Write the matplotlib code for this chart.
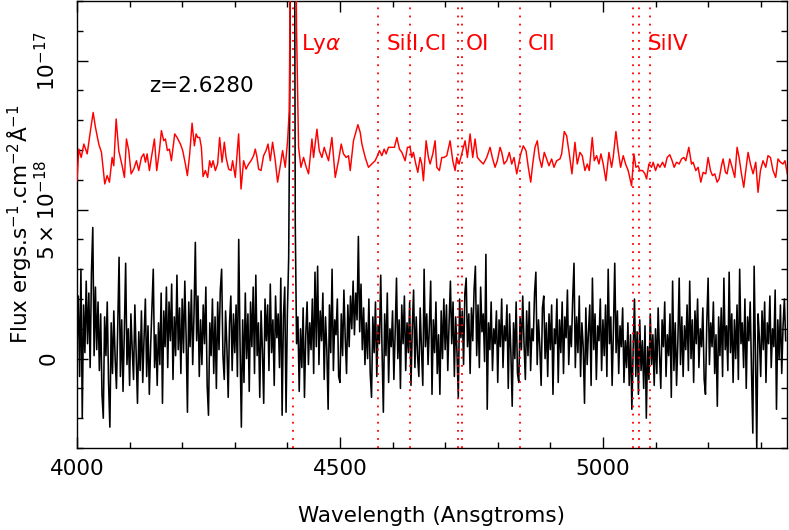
import numpy as np
import matplotlib
matplotlib.use("Agg")
import matplotlib.pyplot as plt
from matplotlib.ticker import MultipleLocator

# ---------------- data ----------------
redshift = 2.628

# black: observed spectrum (units 1e-18 erg/s/cm2/A), sampled every 2.5 A from 4000 A
black_start = 4000.0
black_step = 2.5
black_flux = [
    0.4, 2.1, -0.6, 3.0, -2.0, 1.8, 0.2, 2.6, 0.5, 2.2, -0.3, 2.9, 4.4, 0.1, 2.4, 0.3, 1.9, -0.4, 1.5, -1.2,
    -2.0, 1.4, 0.1, 1.9, -0.8, -2.3, 1.2, -0.5, 1.6, 0.0, -1.0, 1.1, 3.4, -0.6, 1.3, -1.1, 0.9, 3.2, -0.2, 1.0,
    -0.9, 1.5, 0.3, -0.7, 1.8, 0.2, -1.5, 0.9, -0.4, 1.6, -0.8, 0.7, 2.0, -0.6, 1.1, -1.2, 0.4, 1.7, 3.0, -0.3,
    0.8, -0.9, 1.2, -0.2, 2.2, -1.5, 1.6, 0.4, 2.4, -0.3, 1.9, 0.6, 2.5, -0.7, 1.4, 0.1, 2.8, 0.3, 1.7, -0.5,
    2.0, 0.2, 2.6, 0.7, -1.8, 1.9, 0.4, 2.3, -0.2, 1.5, 3.9, 0.6, 2.1, -0.6, 1.3, -0.2, 1.8, 0.5, 2.4, -0.9,
    -1.9, 1.2, 0.1, 2.0, -0.5, 1.4, -1.0, 1.9, 0.3, 2.3, 3.0, 0.1, -0.7, 1.6, 0.4, -1.3, 1.2, 2.1, -0.4, 1.5,
    0.2, 1.8, -0.6, 4.0, 0.5, -2.3, 1.3, -0.8, 2.2, 0.0, 1.5, -1.1, 1.9, 0.4, 2.4, -0.5, 2.8, 0.1, 1.2, -1.3,
    1.6, 0.3, -1.5, 2.0, 0.6, 1.8, -0.4, 2.5, 0.2, 1.3, -0.9, 2.1, 0.7, 1.5, -0.3, 2.7, -1.9, 1.4, 2.4, -1.8,
    1.5, 3.4, 10.0, 28.0, 35.0, 25.0, 4.5, 0.5, 1.4, -1.1, 1.0, -0.3, 1.7, -1.3, 0.8, 1.9, -0.2, 1.2, 0.3, 2.0,
    -0.5, 2.9, 0.4, 3.1, -0.2, 1.6, 0.6, 2.2, -0.7, 1.4, 0.3, -1.7, 1.8, 0.2, 3.0, -0.4, 1.3, 0.8, 2.0, -0.6,
    -0.8, 1.5, 0.1, 2.3, 0.7, -0.5, 1.8, 0.4, 2.1, 1.0, 2.6, 0.8, 2.2, 1.3, 4.1, 0.9, 2.5, 0.3, 1.7, -0.2,
    1.2, 0.0, 2.0, -0.5, -1.3, 1.4, 0.2, 1.9, -0.6, 1.1, 0.5, 2.8, 0.3, -1.8, 1.5, 0.1, 2.2, -0.8, 1.0, 0.4,
    1.6, -0.7, 0.9, 2.7, 0.0, 1.3, -1.0, 1.8, 0.5, 2.1, -0.4, 1.2, 0.2, 1.9, -0.9, 1.0, 2.3, -0.3, 1.4, 0.1,
    -0.6, 1.7, 0.3, -0.9, 3.0, 0.4, 1.5, -0.2, 1.1, 2.6, -1.2, 1.3, 0.2, 1.9, -0.5, 0.8, -1.2, 1.6, 0.0, 2.0,
    0.3, 1.8, -0.4, 1.2, 2.6, 0.5, 1.9, -0.6, 1.4, 0.2, -1.3, 2.0, 0.7, 1.6, -0.2, 2.2, 2.7, 0.4, 1.5, -0.5,
    1.7, 0.6, 2.3, 3.1, 0.1, 1.8, -0.3, 2.4, 0.9, 1.5, -0.1, 3.5, -1.7, 1.2, 0.3, 1.9, -0.4, 1.0, 0.5, 1.6,
    -0.8, 1.3, 0.4, 2.0, -0.3, 1.1, 0.6, 1.8, -1.0, 1.5, 0.2, -1.6, 1.2, 0.0, 1.9, -0.5, -0.8, 1.4, 0.3, 2.1,
    0.5, -0.7, 1.6, 0.1, 1.9, -0.4, 1.0, 0.6, 2.2, 2.9, -0.2, 1.3, 0.4, -0.9, 1.7, 2.1, 0.0, 1.2, -0.6, 1.5,
    0.3, 1.8, -1.2, 1.0, 0.5, 2.0, -0.8, 1.3, 0.2, 1.9, -0.5, 1.4, 0.7, 2.3, -0.2, 1.1, 0.4, 2.0, 3.2, -0.3,
    1.4, 0.2, 2.1, -0.6, 1.2, 0.4, -1.5, 1.7, -0.2, 0.9, 1.8, -0.9, 2.7, 0.3, 1.5, -0.7, 1.1, 0.6, 2.0, -0.4,
    1.3, 0.1, 1.8, -0.6, 3.0, 0.5, 1.4, -0.9, 1.0, 3.2, 0.2, 1.6, -0.5, 1.1, 0.4, 1.7, -0.8, 0.6, -0.3, 1.2,
    -0.9, 0.8, -1.7, 0.3, 2.0, -0.6, 0.9, -1.2, 1.3, -0.4, 0.6, -1.0, 1.1, -2.0, 0.4, -0.7, 1.5, -0.2, 0.8, -0.9,
    1.0, -0.5, 1.7, 0.2, -1.0, 1.3, 0.4, 1.9, -0.6, 0.8, 0.1, 1.5, -1.3, 2.6, -0.4, 1.2, -0.9, 0.6, 2.7, -0.2,
    1.4, -0.6, 1.1, 0.3, 1.8, -0.4, 2.6, 0.0, 1.3, -0.8, 1.6, 0.5, 2.0, -0.3, 1.0, 0.4, 1.7, -0.7, -1.2, 1.2,
    2.7, -0.2, 1.2, 0.4, 1.9, -0.5, 0.8, -1.6, 1.4, 0.1, 1.7, -0.6, 2.7, 0.3, 1.1, -0.4, 2.9, 0.2, 1.5, -0.8,
    1.3, 0.0, 1.8, -0.7, 3.0, 0.5, 1.2, -0.3, 2.0, -1.0, 1.4, 0.6, 1.9, -0.4, -2.5, 3.1, 0.2, -3.0, 1.5, 0.7,
    -0.6, 1.6, 0.3, 1.9, -0.8, 1.2, 0.5, 2.1, -0.3, 1.0, 0.4, 2.3, -1.7, 1.3, 0.0, 1.8, -0.5, 1.1, 2.0, 0.6,
]

# red: smoothed spectrum, offset upward (units 1e-18)
red_wave = [
    4000.0, 4003.4, 4008.0, 4013.0, 4019.4, 4025.6, 4030.7, 4035.1, 4041.4, 4046.5,
    4052.8, 4057.3, 4061.7, 4066.8, 4069.9, 4074.4, 4079.4, 4085.8, 4090.2, 4094.0,
    4098.4, 4102.9, 4107.9, 4113.0, 4117.4, 4122.5, 4126.9, 4130.1, 4133.3, 4137.7,
    4141.5, 4147.2, 4151.6, 4156.7, 4160.5, 4164.9, 4168.1, 4171.9, 4175.7, 4179.5,
    4182.7, 4185.8, 4190.3, 4196.6, 4201.0, 4206.1, 4209.9, 4214.3, 4218.8, 4223.2,
    4226.4, 4229.4, 4233.2, 4236.5, 4239.7, 4244.1, 4248.4, 4252.2, 4255.5, 4258.7,
    4263.1, 4267.4, 4271.2, 4275.8, 4280.2, 4283.4, 4288.3, 4292.9, 4295.9, 4301.0,
    4307.3, 4311.9, 4316.8, 4321.4, 4326.3, 4330.9, 4335.8, 4339.0, 4342.3, 4345.3,
    4349.9, 4354.8, 4359.4, 4363.2, 4367.5, 4371.9, 4377.0, 4381.4, 4386.5, 4390.9,
    4396.0, 4400.4, 4403.6, 4407.5, 4411.0, 4414.5, 4417.5, 4421.3, 4425.8, 4430.8,
    4435.9, 4440.3, 4446.7, 4449.8, 4456.2, 4460.6, 4465.7, 4470.1, 4473.9, 4478.3,
    4484.7, 4491.0, 4497.2, 4502.4, 4506.7, 4511.9, 4516.2, 4519.5, 4525.7, 4530.9,
    4534.1, 4538.5, 4541.7, 4548.0, 4554.2, 4560.7, 4566.9, 4571.3, 4575.1, 4579.7,
    4584.0, 4587.8, 4592.2, 4598.7, 4603.6, 4608.2, 4613.1, 4617.7, 4623.9, 4628.3,
    4633.4, 4636.6, 4639.7, 4644.2, 4648.0, 4652.4, 4655.6, 4658.7, 4663.8, 4668.2,
    4671.4, 4676.5, 4680.9, 4684.1, 4689.1, 4693.6, 4698.0, 4703.1, 4709.4, 4714.5,
    4718.9, 4722.1, 4726.5, 4731.6, 4737.9, 4742.3, 4747.4, 4752.5, 4756.9, 4761.3,
    4766.4, 4772.6, 4779.1, 4785.4, 4789.7, 4794.9, 4799.2, 4804.4, 4807.6, 4812.0,
    4817.1, 4822.0, 4826.6, 4831.0, 4836.1, 4841.0, 4843.7, 4848.6, 4853.7, 4858.1,
    4862.7, 4866.5, 4870.8, 4875.2, 4879.0, 4883.6, 4888.5, 4893.0, 4897.4, 4902.5,
    4906.9, 4912.0, 4918.3, 4921.5, 4926.5, 4931.0, 4936.0, 4941.1, 4946.8, 4951.2,
    4956.3, 4960.7, 4965.8, 4970.2, 4974.0, 4979.7, 4983.5, 4988.0, 4992.4, 4996.2,
    5000.6, 5005.7, 5011.4, 5016.5, 5019.5, 5024.7, 5029.0, 5033.6, 5038.6, 5043.1,
    5048.0, 5054.5, 5058.9, 5062.7, 5067.0, 5070.2, 5075.4, 5079.8, 5083.0, 5087.4,
    5092.5, 5095.5, 5100.1, 5104.5, 5108.3, 5113.4, 5117.8, 5122.1, 5127.2, 5131.6,
    5135.4, 5140.0, 5144.9, 5149.5, 5153.8, 5157.6, 5163.3, 5168.4, 5171.5, 5176.6,
    5181.0, 5186.1, 5190.5, 5195.6, 5200.0, 5204.5, 5208.4, 5212.7, 5217.1, 5220.9,
    5225.4, 5228.5, 5233.0, 5236.1, 5241.2, 5245.6, 5250.7, 5255.1, 5258.9, 5263.4,
    5267.8, 5271.6, 5276.0, 5280.5, 5285.5, 5290.6, 5294.9, 5299.5, 5304.4, 5309.6,
    5313.9, 5318.5, 5323.4, 5328.5, 5332.9, 5337.5, 5342.4, 5346.2, 5350.5,
]
red_flux = [
    5.97, 7.03, 6.75, 7.20, 6.87, 7.65, 8.26, 7.76, 7.20, 6.92,
    5.86, 6.14, 5.92, 6.75, 6.47, 8.04, 6.98, 6.47, 6.08, 7.37,
    6.98, 6.20, 6.36, 6.64, 6.31, 6.75, 6.87, 6.59, 6.87, 6.31,
    6.75, 7.37, 6.31, 6.98, 7.65, 7.31, 7.37, 6.98, 7.03, 6.64,
    7.09, 7.54, 7.42, 7.20, 6.98, 6.53, 6.14, 6.87, 7.90, 7.14,
    7.54, 7.42, 7.42, 7.09, 6.11, 6.31, 6.08, 6.64, 6.42, 6.64,
    6.31, 6.53, 7.42, 6.59, 7.26, 6.75, 6.36, 6.31, 6.64, 6.08,
    7.54, 5.69, 6.64, 6.36, 6.53, 6.64, 6.81, 7.03, 6.75, 6.36,
    6.31, 6.81, 6.98, 7.20, 6.64, 7.26, 6.64, 5.92, 6.47, 6.98,
    6.42, 7.31, 8.32, 18.0, 22.0, 18.0, 11.0, 7.09, 6.42, 6.75,
    6.42, 6.20, 7.37, 6.75, 7.70, 6.98, 6.75, 7.09, 6.87, 6.64,
    7.42, 6.08, 6.64, 7.20, 6.87, 6.75, 6.81, 6.31, 7.31, 7.65,
    7.85, 7.59, 7.20, 6.75, 6.42, 6.53, 6.64, 6.81, 6.98, 6.81,
    7.03, 6.87, 7.09, 7.09, 7.09, 7.42, 7.03, 6.92, 6.64, 7.09,
    7.09, 6.75, 6.92, 6.53, 6.25, 6.75, 6.53, 5.97, 7.31, 6.75,
    6.53, 6.87, 7.31, 6.42, 6.31, 6.75, 6.75, 6.81, 7.31, 6.64,
    6.31, 6.75, 6.53, 6.87, 7.31, 6.75, 7.54, 6.75, 7.37, 6.75,
    6.64, 6.53, 6.75, 7.09, 6.75, 6.42, 6.64, 7.09, 6.92, 6.53,
    6.64, 6.92, 6.53, 6.75, 6.20, 6.64, 6.87, 7.14, 6.98, 6.42,
    5.92, 6.53, 7.09, 7.31, 6.75, 6.42, 6.92, 6.70, 6.47, 6.70,
    6.42, 6.64, 6.70, 6.87, 7.62, 7.48, 6.87, 6.20, 7.26, 6.53,
    6.92, 6.81, 6.31, 6.53, 6.31, 7.42, 6.64, 6.81, 6.53, 6.87,
    6.53, 5.97, 6.92, 6.42, 6.75, 7.62, 6.98, 6.42, 6.81, 6.53,
    6.31, 5.80, 6.87, 6.42, 6.47, 6.31, 6.31, 6.20, 6.03, 6.53,
    6.42, 6.59, 6.31, 6.53, 6.42, 6.59, 6.42, 6.75, 6.84, 6.64,
    6.42, 6.59, 6.53, 6.70, 6.75, 6.64, 7.09, 6.53, 6.59, 6.31,
    6.42, 5.92, 6.25, 6.20, 6.75, 6.31, 6.14, 6.20, 5.92, 6.03,
    6.47, 6.70, 6.25, 6.20, 6.70, 6.42, 6.08, 7.09, 6.75, 6.20,
    5.75, 6.31, 6.92, 6.53, 6.20, 6.59, 5.58, 6.31, 6.64, 6.42,
    6.81, 6.75, 6.31, 6.08, 6.70, 6.59, 6.53, 6.64, 6.20,
]

# emission / absorption line markers (rest wavelengths, Angstrom)
line_rest = [1215.67, 1260.42, 1277.25, 1302.17, 1304.37, 1334.53, 1393.76, 1397.20, 1402.77]
label_names = ["Ly$\\alpha$", "SiII,CI", "OI", "CII", "SiIV"]
label_rest = [1215.67, 1260.42, 1302.17, 1334.53, 1397.20]

x_ticks = [4000, 4500, 5000]
y_ticks = [0.0, 5e-18, 1e-17]
y_ticklabels = ["0", "$5\\times10^{-18}$", "$10^{-17}$"]

# ---------------- plot ----------------
FS = 15.5
plt.rcParams["font.family"] = ["DejaVu Sans"]
plt.rcParams["mathtext.fontset"] = "dejavusans"

fig = plt.figure(figsize=(7.89, 5.30), dpi=100)
ax = fig.add_axes([77 / 789, 82 / 530, 710 / 789, 447 / 530])

scale = 1e-18
black_wave = black_start + black_step * np.arange(len(black_flux))
ax.plot(black_wave, np.array(black_flux) * scale, color="black", lw=1.15, zorder=2)
ax.plot(red_wave, np.array(red_flux) * scale, color="#ff0000", lw=1.05, zorder=3)

for rest in line_rest:
    ax.axvline(rest * (1 + redshift), color="#ff0000", lw=1.3, ls=(0, (1, 3.5)), zorder=4)

for name, rest in zip(label_names, label_rest):
    ax.annotate(name, xy=(rest * (1 + redshift), 0.904), xycoords=("data", "axes fraction"),
                xytext=(5.8, 0), textcoords="offset points", color="#ff0000",
                fontsize=FS, ha="left", va="center")

ax.text(0.1746, 0.81, "z=%.4f" % redshift, transform=ax.transAxes, fontsize=FS,
        ha="center", va="center", color="black")

ax.set_xlim(4000, 5350)
ax.set_ylim(-3e-18, 1.2e-17)
ax.set_xticks(x_ticks)
ax.set_xticklabels([str(t) for t in x_ticks], fontsize=FS)
ax.xaxis.set_minor_locator(MultipleLocator(100))
ax.set_yticks(y_ticks)
ax.set_yticklabels(y_ticklabels, fontsize=FS, rotation=90, va="center")
ax.yaxis.set_minor_locator(MultipleLocator(1e-18))

ax.tick_params(which="both", direction="in", top=True, right=True, width=1.0, color="black")
ax.tick_params(which="major", length=8)
ax.tick_params(which="minor", length=4)
ax.tick_params(axis="x", pad=8)
ax.tick_params(axis="y", pad=13)
for s in ax.spines.values():
    s.set_linewidth(1.0)

ax.set_xlabel("Wavelength (Ansgtroms)", fontsize=FS, va="center")
ax.xaxis.set_label_coords(0.5, (448 - 516) / 447)
ax.set_ylabel("Flux ergs.s$^{-1}$.cm$^{-2}$Å$^{-1}$", fontsize=FS, va="center")
ax.yaxis.set_label_coords((20 - 77) / 710, 0.5)

fig.savefig("out.png", dpi=100)
